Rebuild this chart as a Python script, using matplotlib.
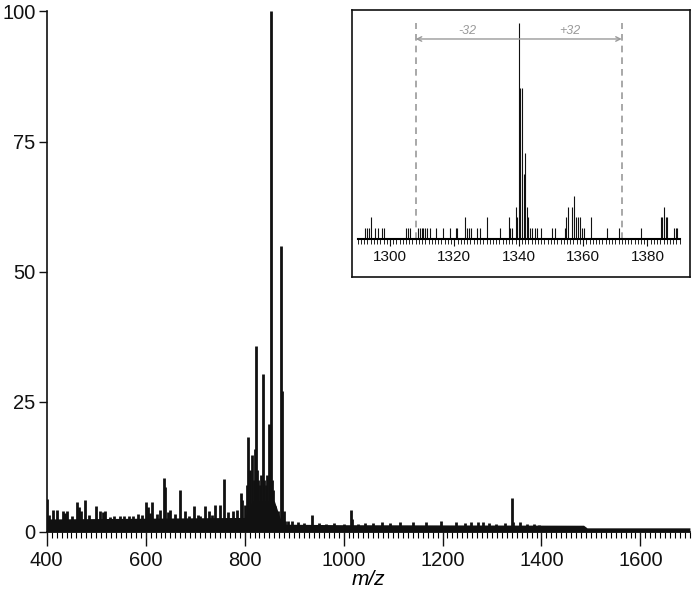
import matplotlib
matplotlib.use("Agg")
import matplotlib.pyplot as plt
from matplotlib.ticker import MultipleLocator

plt.rcParams['font.family'] = ['Liberation Sans', 'DejaVu Sans']

INK = "#111111"; GREY = "#9a9a9a"

# ---- full spectrum (relative intensity, %) ----
floor_mz = [400, 800, 815, 860, 872, 882, 1000, 1485, 1492, 1700]
floor_int = [2.5, 2.8, 6.0, 6.0, 2.6, 1.5, 1.4, 1.3, 0.8, 0.8]

peak_mz = [401, 405, 413, 420, 432, 437, 442, 452, 462, 466, 470, 477, 485,
           500, 508, 513, 518, 528, 537, 548, 556, 566, 575, 584, 592,
           600, 604, 608, 613, 622, 628, 637, 640, 645, 650, 660, 670, 679,
           688, 697, 705, 710, 719, 729, 735, 741, 750, 758, 767, 776, 785,
           792, 795, 801, 804, 807, 811, 814, 818, 821, 824, 826, 828, 831,
           834, 837.6, 840, 843, 846, 849.8, 852, 854, 856, 858, 862, 866,
           868, 873, 876, 879,
           882, 888, 895, 907, 920, 936.5, 950, 965, 980, 1000, 1015.5, 1018,
           1030, 1044, 1060, 1077, 1093, 1115, 1140, 1166, 1196, 1228, 1245,
           1258, 1271, 1281, 1294, 1309, 1326, 1339.5, 1342, 1356, 1370,
           1384, 1395, 1437, 1455, 1478]
peak_int = [6.3, 3.2, 4.2, 4.3, 4.0, 3.6, 4.0, 3.0, 5.8, 4.8, 4.0, 6.1, 3.2,
            5.0, 4.0, 3.8, 4.0, 2.9, 3.0, 3.0, 3.0, 3.1, 3.0, 3.4, 3.2,
            5.8, 4.8, 3.6, 5.8, 3.4, 4.2, 10.3, 8.7, 3.8, 4.3, 3.4, 8.0, 4.1,
            3.0, 5.0, 3.2, 3.0, 5.0, 4.1, 3.2, 5.1, 5.1, 10.2, 3.8, 4.0, 4.3,
            7.4, 6.2, 5.1, 9.0, 18.2, 12.0, 14.7, 10.0, 16.0, 35.8, 12.0, 10.0, 9.0,
            11.0, 30.4, 10.0, 9.0, 11.0, 20.8, 12.0, 100.0, 10.0, 8.0, 5.0, 3.5,
            4.0, 55.0, 27.0, 4.0,
            2.2, 2.1, 2.1, 1.9, 1.7, 3.2, 1.7, 1.6, 1.7, 1.6, 4.3, 2.4,
            1.6, 1.7, 1.7, 1.9, 1.8, 2.0, 1.9, 1.9, 2.2, 2.0, 1.8,
            2.0, 2.0, 1.9, 1.7, 1.6, 1.8, 6.6, 2.0, 1.9, 1.5,
            1.5, 1.3, 1.2, 1.0, 1.0]

# ---- inset: zoom on the 1340 ion ----
ins_mz = [1292.2, 1292.8, 1293.5, 1294.2, 1295.3, 1296.4, 1297.4, 1298.2,
          1305.0, 1305.5, 1306.2, 1308.8, 1309.3, 1309.8, 1310.3, 1310.8,
          1311.4, 1312.4, 1314.3, 1316.6, 1318.6, 1320.5, 1320.9, 1323.3,
          1323.8, 1324.5, 1325.3, 1327.1, 1328.0, 1330.2, 1334.3, 1336.9,
          1337.3, 1338.0, 1339.1, 1339.6, 1340.0, 1340.5, 1341.0, 1341.5,
          1342.0, 1342.5, 1343.0, 1343.6, 1344.2, 1345.0, 1345.8, 1346.9,
          1350.2, 1351.2, 1354.3, 1354.8, 1355.4, 1356.4, 1357.1, 1357.8,
          1358.4, 1359.0, 1359.6, 1360.2, 1362.3, 1367.3, 1371.2, 1377.9,
          1384.1, 1384.6, 1385.0, 1385.6, 1386.2, 1388.2, 1388.8, 1389.2]
ins_int = [5, 5, 5, 10, 5, 5, 5, 5,
           5, 5, 5, 5, 5, 5, 5, 5,
           5, 5, 5, 5, 5, 5, 5, 10,
           5, 5, 5, 5, 5, 10, 5, 10,
           5, 5, 15, 10, 100, 70, 70, 30,
           40, 15, 10, 5, 5, 5, 5, 5,
           5, 5, 5, 10, 15, 15, 20, 10,
           10, 10, 5, 5, 10, 5, 5, 5,
           10, 10, 15, 10, 10, 5, 5, 5]
shift_lo, shift_hi, shift_parent = 1308, 1372, 1340

fig = plt.figure(figsize=(6.92, 5.96), dpi=100)
ax = fig.add_axes([0.0675, 0.1074, 0.9295, 0.8735])
ax.fill_between(floor_mz, 0, floor_int, color=INK, lw=0)
ax.vlines(peak_mz, 0, peak_int, color=INK, lw=2.0)
ax.set_xlim(400, 1700); ax.set_ylim(0, 100)
for s in ("top", "right"):
    ax.spines[s].set_visible(False)
for s in ("left", "bottom"):
    ax.spines[s].set_linewidth(1.2); ax.spines[s].set_color(INK)
ax.set_yticks([0, 25, 50, 75, 100])
ax.xaxis.set_major_locator(MultipleLocator(200))
ax.xaxis.set_minor_locator(MultipleLocator(10))
ax.tick_params(labelsize=14.5, colors=INK, width=1, direction="out")
ax.tick_params(axis="y", length=5.5, pad=2.5)
ax.tick_params(axis="x", which="major", length=10, pad=4)
ax.tick_params(axis="x", which="minor", length=4, width=0.8)
ax.set_xlabel("m/z", fontsize=15, style="italic", labelpad=0)

# inset frame
box = fig.add_axes([0.5087, 0.5352, 0.4884, 0.448])
box.set_xticks([]); box.set_yticks([])
for s in box.spines.values():
    s.set_linewidth(1.2); s.set_color(INK)

ins = fig.add_axes([0.517, 0.599, 0.4652, 0.3624])
ins.patch.set_alpha(0)
ins.vlines(ins_mz, 0, ins_int, color=INK, lw=0.8)
ins.set_xlim(1290, 1390); ins.set_ylim(0, 100)
for s in ("top", "right", "left"):
    ins.spines[s].set_visible(False)
ins.spines["bottom"].set_linewidth(1.5)
ins.set_yticks([])
ins.xaxis.set_major_locator(MultipleLocator(20))
ins.xaxis.set_minor_locator(MultipleLocator(1))
ins.tick_params(axis="x", labelsize=11, colors=INK, length=5, width=0.8, pad=3)
ins.tick_params(axis="x", which="minor", length=3.5, width=0.6)

for x in (shift_lo, shift_hi):
    ins.axvline(x, ymin=0, ymax=1, color=GREY, lw=1.2, dashes=(4, 3))
ins.annotate("", xy=(shift_lo, 92.6), xytext=(shift_hi, 92.6),
             arrowprops=dict(arrowstyle="<->", color=GREY, lw=1,
                             shrinkA=0, shrinkB=0, mutation_scale=8))
ins.text((shift_lo + shift_parent) / 2, 96.5, f"-{shift_parent - shift_lo}",
         ha="center", va="center", fontsize=9, style="italic", color=GREY)
ins.text((shift_hi + shift_parent) / 2, 96.5, f"+{shift_hi - shift_parent}",
         ha="center", va="center", fontsize=9, style="italic", color=GREY)

fig.savefig("out.png", dpi=100)
